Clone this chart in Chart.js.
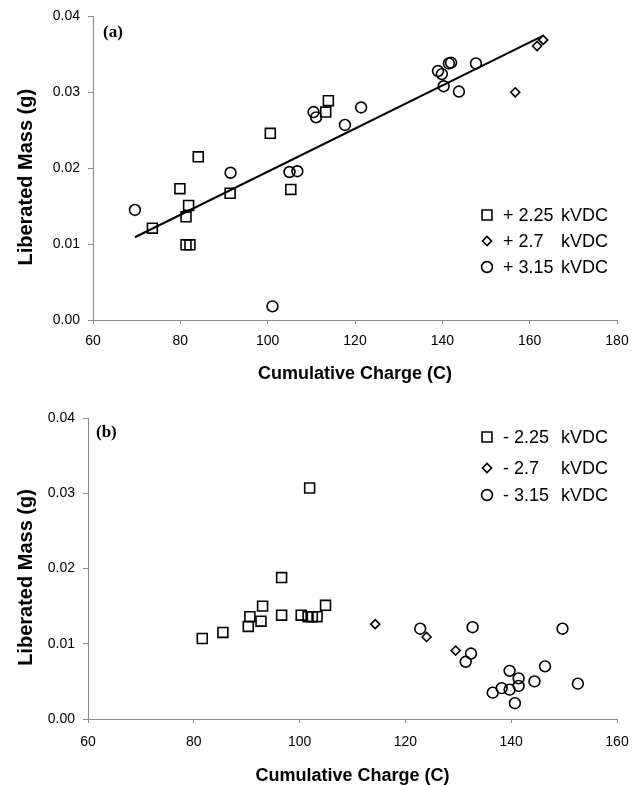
<!DOCTYPE html>
<html>
<head>
<meta charset="utf-8">
<script src="https://cdn.jsdelivr.net/npm/chart.js@4.4.0/dist/chart.umd.min.js"></script>
<style>
  body { margin: 0; background: #fff; }
  canvas { position: absolute; left: 0; }
  #chartA { top: 0; }
  #chartB { top: 390px; }
</style>
</head>
<body>
<canvas id="chartA" width="644" height="390"></canvas>
<canvas id="chartB" width="644" height="395"></canvas>
<script>
// (a) positive polarity
const sqA_x = [73.6, 79.9, 84.1, 81.9, 81.3, 81.3, 82.2, 91.4, 100.6, 105.3, 113.3, 113.9];
const sqA_y = [0.0121, 0.0173, 0.0215, 0.0151, 0.0136, 0.0099, 0.0099, 0.0167, 0.0246, 0.0172, 0.0274, 0.0289];
const diA_x = [156.7, 161.7, 163.1];
const diA_y = [0.0300, 0.0361, 0.0369];
const ciA_x = [69.6, 91.5, 101.1, 105.0, 106.8, 110.5, 111.1, 117.7, 121.4, 139.0, 139.9, 140.3, 141.5, 142.0, 143.8, 147.7];
const ciA_y = [0.0145, 0.0194, 0.0018, 0.0195, 0.0196, 0.0274, 0.0267, 0.0257, 0.0280, 0.0328, 0.0324, 0.0308, 0.0338, 0.0339, 0.0301, 0.0338];
const trendA_x = [69.6, 162.9];
const trendA_y = [0.0109, 0.0374];
const labelsA = ["+ 2.25", "+ 2.7", "+ 3.15"];

// (b) negative polarity
const sqB_x = [81.6, 85.5, 90.3, 90.6, 92.7, 93.0, 96.6, 96.6, 100.3, 101.9, 101.6, 102.4, 103.3, 104.9];
const sqB_y = [0.0107, 0.0115, 0.0123, 0.0136, 0.0130, 0.0150, 0.0188, 0.0138, 0.0138, 0.0307, 0.0136, 0.0136, 0.0136, 0.0151];
const diB_x = [114.3, 124.0, 129.5];
const diB_y = [0.0126, 0.0109, 0.0091];
const ciB_x = [122.8, 132.7, 132.4, 131.4, 149.7, 146.4, 139.7, 141.4, 141.4, 144.4, 152.6, 136.5, 138.2, 139.7, 140.7];
const ciB_y = [0.0120, 0.0122, 0.0087, 0.0076, 0.0120, 0.0070, 0.0064, 0.0054, 0.0044, 0.0050, 0.0047, 0.0035, 0.0041, 0.0039, 0.0021];
const labelsB = ["- 2.25", "- 2.7", "- 3.15"];

const unit = "kVDC";
const xTitle = "Cumulative Charge (C)";
const yTitle = "Liberated Mass (g)";

const pts = (xs, ys) => xs.map((x, i) => ({ x, y: ys[i] }));
const FONT = "'Liberation Sans', Arial, sans-serif";

const marker = (label, style, radius, data) => ({
  label, data, pointStyle: style, pointRadius: radius, pointHoverRadius: radius,
  borderColor: "#000", backgroundColor: "rgba(0,0,0,0)", pointBorderWidth: 1.6, showLine: false
});

// legend, panel letter and y title, drawn on top of the chart
const panelPlugin = {
  id: "panel",
  afterDraw(chart, args, opts) {
    const ctx = chart.ctx;
    const area = chart.chartArea;
    ctx.save();
    ctx.fillStyle = "#000";
    ctx.textBaseline = "middle";
    ctx.textAlign = "left";
    ctx.font = "bold 17px 'Liberation Serif', serif";
    ctx.fillText(opts.letter, opts.letterX, opts.letterY);

    // y title sits a little below the middle of the axis in the original
    ctx.save();
    ctx.translate(26, (area.top + area.bottom) / 2 + 9);
    ctx.rotate(-Math.PI / 2);
    ctx.textAlign = "center";
    ctx.font = "bold 20px " + FONT;
    ctx.fillText(yTitle, 0, 0);
    ctx.restore();

    ctx.font = "18px " + FONT;
    opts.rows.forEach((y, i) => {
      const ds = chart.data.datasets[i];
      ctx.fillStyle = "rgba(0,0,0,0)";
      ctx.strokeStyle = "#000";
      ctx.lineWidth = 1.6;
      Chart.helpers.drawPoint(ctx, {
        pointStyle: ds.pointStyle, radius: ds.pointRadius, borderWidth: 1.6, rotation: 0
      }, opts.markX, y);
      ctx.fillStyle = "#000";
      ctx.fillText(ds.label, opts.textX, y + 1);
      ctx.fillText(unit, opts.unitX, y + 1);
    });
    ctx.restore();
  }
};

function makeChart(id, datasets, xMax, fit, panel) {
  return new Chart(document.getElementById(id), {
    type: "scatter",
    data: { datasets },
    plugins: [panelPlugin],
    options: {
      responsive: false,
      animation: false,
      events: [],
      layout: { padding: { left: 14, right: 27, top: fit.top, bottom: fit.bottom } },
      plugins: { legend: { display: false }, tooltip: { enabled: false }, panel },
      scales: {
        x: {
          type: "linear", min: 60, max: xMax,
          ticks: { stepSize: 20, color: "#000", padding: fit.xPad, font: { family: FONT, size: 14 } },
          grid: { drawOnChartArea: false, drawTicks: true, tickLength: 4, color: "#888" },
          border: { color: "#888" },
          title: { display: true, text: xTitle, color: "#000", padding: 0,
                   font: { family: FONT, size: 18, weight: "bold", lineHeight: 1 } },
          afterFit: s => { s.height = fit.xH; }
        },
        y: {
          type: "linear", min: 0, max: 0.04,
          ticks: { stepSize: 0.01, color: "#000", padding: 8, font: { family: FONT, size: 14 },
                   callback: v => v.toFixed(2) },
          grid: { drawOnChartArea: false, drawTicks: true, tickLength: 5, color: "#888" },
          border: { color: "#888" },
          title: { display: false, text: yTitle },
          afterFit: s => { s.width = fit.yW; }
        }
      }
    }
  });
}

makeChart("chartA", [
  marker(labelsA[0], "rect", 7, pts(sqA_x, sqA_y)),
  marker(labelsA[1], "rectRot", 4.5, pts(diA_x, diA_y)),
  marker(labelsA[2], "circle", 5.4, pts(ciA_x, ciA_y)),
  { label: "trend", data: pts(trendA_x, trendA_y), showLine: true, pointRadius: 0,
    borderColor: "#000", borderWidth: 2, fill: false }
], 180, { top: 16, bottom: 7, xH: 63, yW: 79, xPad: 9 },
  { letter: "(a)", letterX: 103, letterY: 33, rows: [215, 241, 267], markX: 487, textX: 503, unitX: 561 });

makeChart("chartB", [
  marker(labelsB[0], "rect", 7, pts(sqB_x, sqB_y)),
  marker(labelsB[1], "rectRot", 4.5, pts(diB_x, diB_y)),
  marker(labelsB[2], "circle", 5.4, pts(ciB_x, ciB_y))
], 160, { top: 28, bottom: 0, xH: 66, yW: 74, xPad: 11 },
  { letter: "(b)", letterX: 96, letterY: 43, rows: [47, 78, 105], markX: 487, textX: 503, unitX: 561 });
</script>
</body>
</html>
